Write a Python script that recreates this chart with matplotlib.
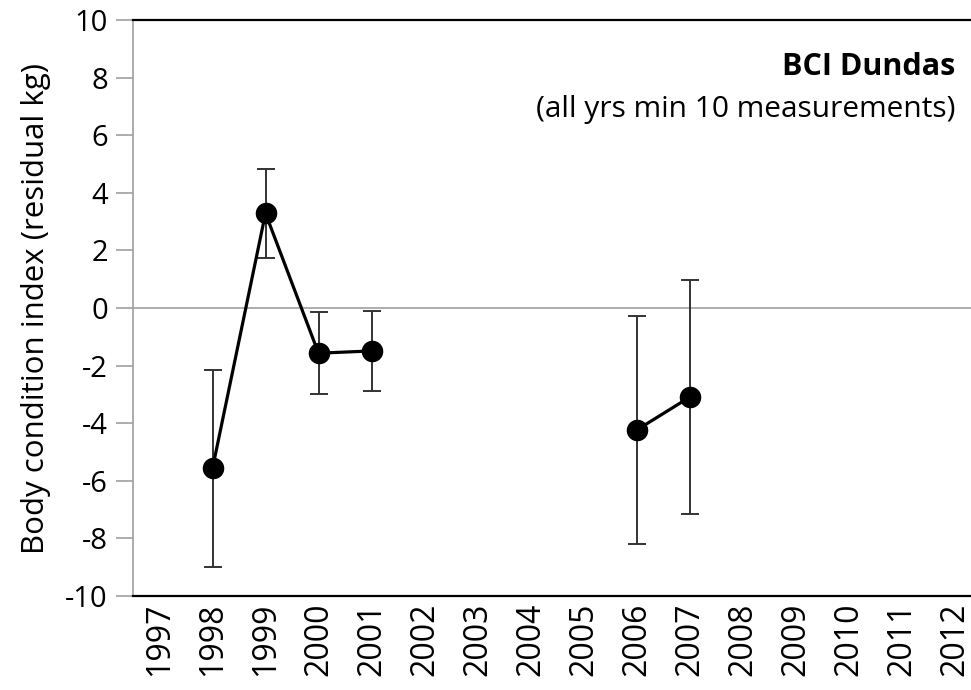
import matplotlib.pyplot as plt
import numpy as np

plt.rcParams['font.family'] = ['Open Sans', 'DejaVu Sans']
plt.rcParams['axes.unicode_minus'] = False

# years on the category axis, nan = no data that year
years = list(range(1997, 2013))
bci = [np.nan, -5.57, 3.29, -1.57, -1.49, np.nan, np.nan, np.nan, np.nan,
       -4.24, -3.10, np.nan, np.nan, np.nan, np.nan, np.nan]
err = [np.nan, 3.42, 1.54, 1.42, 1.40, np.nan, np.nan, np.nan, np.nan,
       3.97, 4.06, np.nan, np.nan, np.nan, np.nan, np.nan]

fig = plt.figure(figsize=(9.71, 6.9), dpi=100)
ax = fig.add_axes([133 / 971, 94 / 690, 848 / 971, 576 / 690])

x = np.arange(len(years))
# error bars first so the markers sit on top
ax.errorbar(x, bci, yerr=err, fmt='none', ecolor='#333333', elinewidth=1.4,
            capsize=6.5, capthick=1.4, zorder=2)
ax.plot(x, bci, color='black', lw=2.3, marker='o', markersize=14.5, zorder=3)

ax.axhline(0, color='#a0a0a0', lw=1.2, zorder=1)

ax.set_xlim(-0.5, len(years) - 0.5)
ax.set_ylim(-10, 10)
ax.set_yticks(range(-10, 11, 2))
ax.set_xticks(x)
ax.set_xticklabels([str(y) for y in years], rotation=90)

ax.tick_params(axis='y', labelsize=21, length=12, width=1.2, color='#a0a0a0', pad=6)
ax.tick_params(axis='x', labelsize=23, length=0, pad=5)

ax.spines['left'].set_color('#a0a0a0')
ax.spines['left'].set_linewidth(1.2)
ax.spines['bottom'].set_linewidth(1.6)
ax.spines['top'].set_linewidth(1.6)
ax.spines['right'].set_visible(False)

ax.set_ylabel('Body condition index (residual kg)', fontsize=22.5, labelpad=10)

ax.text(955 / 971, 1 - 67 / 690, 'BCI Dundas', transform=fig.transFigure,
        fontsize=22, fontweight='bold', ha='right', va='center')
ax.text(955 / 971, 1 - 110 / 690, '(all yrs min 10 measurements)',
        transform=fig.transFigure, fontsize=21.5, ha='right', va='center')

fig.savefig('out.png', dpi=100)
